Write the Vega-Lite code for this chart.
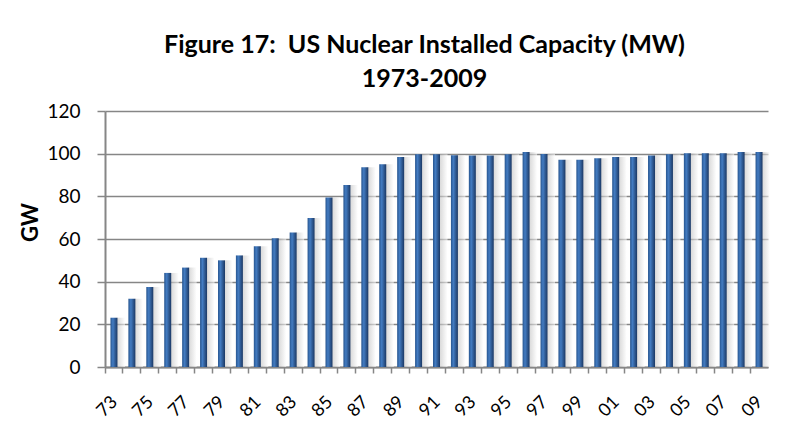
{
  "$schema": "https://vega.github.io/schema/vega-lite/v6.json",
  "width": 663,
  "height": 256,
  "autosize": "none",
  "padding": {"left": 105, "top": 111, "right": 21, "bottom": 78},
  "background": "white",
  "title": {
    "text": ["Figure 17:\u00a0 US Nuclear Installed Capacity (MW)", "1973-2009"],
    "font": "Lato",
    "fontSize": 25,
    "fontWeight": "bold",
    "color": "black",
    "anchor": "middle",
    "frame": "group",
    "dx": -12,
    "lineHeight": 34,
    "offset": 10
  },
  "data": {
    "values": [
      {"year": 1973, "gw": 23.1}, {"year": 1974, "gw": 32.0}, {"year": 1975, "gw": 37.5},
      {"year": 1976, "gw": 44.1}, {"year": 1977, "gw": 46.6}, {"year": 1978, "gw": 51.2},
      {"year": 1979, "gw": 50.0}, {"year": 1980, "gw": 52.3}, {"year": 1981, "gw": 56.6},
      {"year": 1982, "gw": 60.3}, {"year": 1983, "gw": 63.1}, {"year": 1984, "gw": 69.8},
      {"year": 1985, "gw": 79.5}, {"year": 1986, "gw": 85.3}, {"year": 1987, "gw": 93.6},
      {"year": 1988, "gw": 95.0}, {"year": 1989, "gw": 98.4}, {"year": 1990, "gw": 99.7},
      {"year": 1991, "gw": 99.7}, {"year": 1992, "gw": 99.2}, {"year": 1993, "gw": 99.1},
      {"year": 1994, "gw": 99.1}, {"year": 1995, "gw": 99.7}, {"year": 1996, "gw": 100.8},
      {"year": 1997, "gw": 99.8}, {"year": 1998, "gw": 97.2}, {"year": 1999, "gw": 97.2},
      {"year": 2000, "gw": 97.8}, {"year": 2001, "gw": 98.4}, {"year": 2002, "gw": 98.4},
      {"year": 2003, "gw": 99.1}, {"year": 2004, "gw": 99.7}, {"year": 2005, "gw": 100.2},
      {"year": 2006, "gw": 100.2}, {"year": 2007, "gw": 100.2}, {"year": 2008, "gw": 100.8},
      {"year": 2009, "gw": 100.8}
    ]
  },
  "encoding": {
    "x": {
      "field": "year",
      "type": "ordinal",
      "scale": {"paddingInner": 0, "paddingOuter": 0},
      "axis": {
        "title": null,
        "bandPosition": 0,
        "labelAngle": -45,
        "labelAlign": "right",
        "labelBaseline": "middle",
        "labelOffset": 1,
        "labelPadding": 26,
        "labelOverlap": false,
        "labelExpr": "datum.value % 2 == 1 ? slice(toString(datum.value), 2) : ''",
        "labelFont": "Lato",
        "labelFontSize": 18,
        "labelColor": "black",
        "tickSize": 6,
        "tickColor": "#868686",
        "tickWidth": 1.5,
        "domainColor": "#868686",
        "domainWidth": 2,
        "grid": false
      }
    },
    "y": {
      "field": "gw",
      "type": "quantitative",
      "scale": {"domain": [0, 120], "nice": false},
      "axis": {
        "title": "GW",
        "titleFont": "Lato",
        "titleFontSize": 22,
        "titleFontWeight": "bold",
        "titleColor": "black",
        "titleAngle": -90,
        "titleX": -75,
        "titleY": 111,
        "titleAlign": "center",
        "titleBaseline": "middle",
        "values": [0, 20, 40, 60, 80, 100, 120],
        "labelFont": "Lato",
        "labelFontSize": 19,
        "labelColor": "black",
        "labelPadding": 17,
        "tickSize": 8,
        "tickColor": "#868686",
        "tickWidth": 1.5,
        "domainColor": "#868686",
        "domainWidth": 2,
        "grid": true,
        "gridColor": "#868686",
        "gridWidth": 1.5
      }
    }
  },
  "layer": [
    {
      "mark": {
        "type": "bar",
        "width": 8,
        "xOffset": 7,
        "opacity": 0.6,
        "color": {
          "gradient": "linear", "x1": 0, "x2": 1, "y1": 0, "y2": 0,
          "stops": [{"offset": 0, "color": "#bdbdbd"}, {"offset": 1, "color": "#ffffff"}]
        }
      }
    },
    {
      "mark": {
        "type": "bar",
        "width": 7,
        "color": {
          "gradient": "linear", "x1": 0, "x2": 1, "y1": 0, "y2": 0,
          "stops": [
            {"offset": 0, "color": "#27558f"},
            {"offset": 0.35, "color": "#437cc2"},
            {"offset": 1, "color": "#1b3864"}
          ]
        }
      }
    }
  ],
  "config": {"view": {"stroke": null}}
}
